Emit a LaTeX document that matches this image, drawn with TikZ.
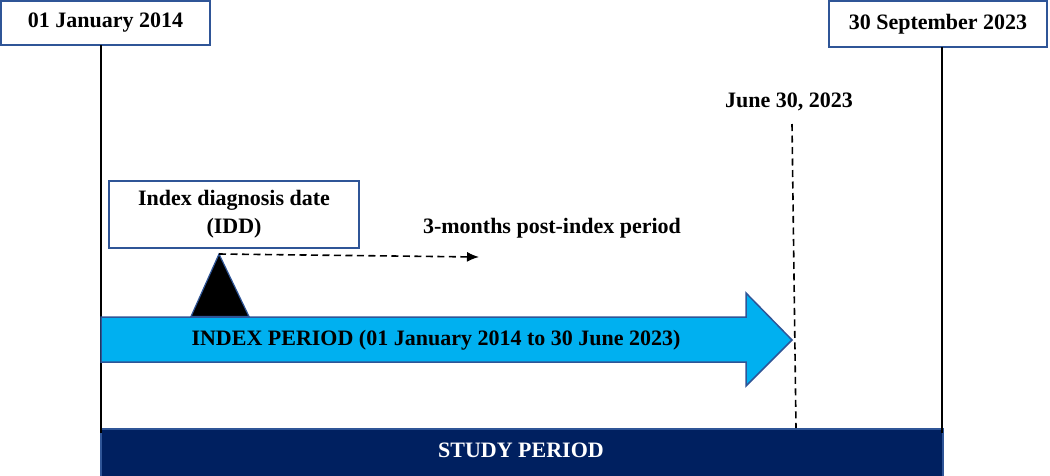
\documentclass[tikz,border=0pt]{standalone}
\usepackage{fontspec}
\setmainfont{Liberation Serif}
\usetikzlibrary{arrows.meta}
\definecolor{boxblue}{RGB}{47,85,151}
\definecolor{idxcyan}{RGB}{0,176,240}
\definecolor{navy}{RGB}{0,32,96}
\begin{document}
\begin{tikzpicture}[x=1pt,y=-1pt,
  txt/.style={font=\bfseries\fontsize{22}{28}\selectfont, inner sep=0pt},
  datebox/.style={txt, draw=boxblue, line width=2pt, fill=white},
  timeline/.style={line width=2pt, black},
  dashline/.style={line width=1.6pt, dash pattern=on 7pt off 4.5pt}]
\useasboundingbox (0,0) rectangle (1050,475);
\fill[white] (0,0) rectangle (1050,475);

% study period bar
\node[txt, draw=boxblue, line width=2pt, fill=navy, text=white,
      minimum width=842pt, minimum height=50pt, anchor=north west] (study) at (100,428) {};
\node[txt, text=white] (studytxt) at (521,450) {STUDY PERIOD};

% date boxes and vertical timeline lines
\node[datebox, minimum width=209pt, minimum height=44pt] (start) at (105.5,23) {01 January 2014};
\node[datebox, minimum width=218pt, minimum height=46pt] (end) at (938,24) {30 September 2023};
\coordinate (startbot) at (101,433);
\coordinate (endbot) at (942,433);
\coordinate (starttop) at (101,45);
\coordinate (endtop) at (942,47);
\draw[timeline] (starttop) -- (startbot);
\draw[timeline] (endtop) -- (endbot);

% index period arrow
\draw[boxblue, line width=1.5pt, fill=idxcyan]
  (101,317) -- (746,317) -- (746,293) -- (792,340) coordinate (tip)
  -- (746,386) -- (746,362) -- (101,362) -- cycle;
\node[txt] (idxtxt) at (436,340) {INDEX PERIOD (01 January 2014 to 30 June 2023)};

% June 30 marker
\node[txt] (june) at (789,102) {June 30, 2023};
\coordinate (junetop) at (792,124);
\coordinate (junebot) at (796,428);
\draw[dashline] (junetop) -- (junebot);

% IDD box and triangle
\node[datebox, align=center, minimum width=250pt, minimum height=67pt] (idd) at (234,214)
  {Index diagnosis date\\(IDD)};
\coordinate (apex) at (219,254);
\draw[boxblue, line width=1.2pt, fill=black] (191,316.5) -- (apex) -- (249,316.5) -- cycle;

% post-index period
\coordinate (postend) at (479,257);
\draw[dashline, -{Latex[length=12pt,width=10pt]}] (apex) -- (postend);
\node[txt] (post) at (552,228) {3-months post-index period};
\end{tikzpicture}
\end{document}
